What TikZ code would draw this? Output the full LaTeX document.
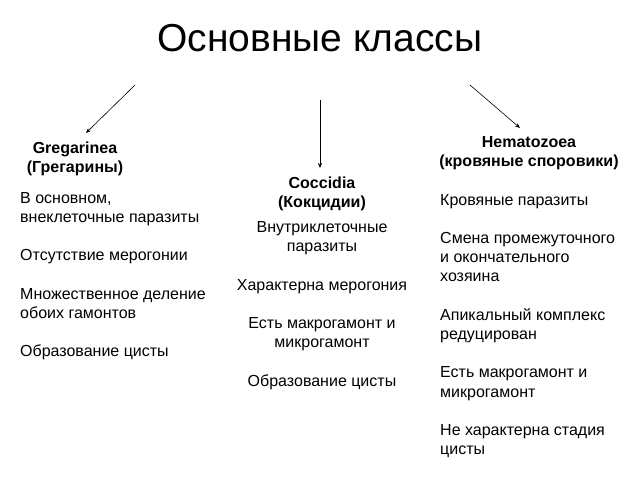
\documentclass[tikz,border=0pt]{standalone}
\usepackage{fontspec}
\setmainfont{Liberation Sans}
\usetikzlibrary{arrows.meta}

\begin{document}
\begin{tikzpicture}[x=1pt,y=-1pt,
  head/.style={font=\fontsize{16}{19}\selectfont\bfseries, align=center, inner sep=0pt},
  body/.style={font=\fontsize{16}{19.2}\selectfont, inner sep=0pt},
  link/.style={-{Stealth[length=5pt,width=4pt]}, line width=0.6pt}]
\useasboundingbox (0,0) rectangle (640,480);

\node[font=\fontsize{39}{42}\selectfont, anchor=base, inner sep=0pt] (title) at (320,51) {Основные классы};

% headers (base = last line)
\node[head, anchor=base] (greg) at (75,172) {Gregarinea\\(Грегарины)};
\node[head, anchor=base] (cocc) at (322,207) {Coccidia\\(Кокцидии)};
\node[head, anchor=base] (hema) at (529,166) {Hematozoea\\(кровяные споровики)};

% arrows
\coordinate (gA) at (135,85);
\coordinate (gB) at (86,133);
\coordinate (cA) at (320,100);
\coordinate (cB) at (320,168);
\coordinate (hA) at (470,85);
\coordinate (hB) at (520,128);
\draw[link] (gA) -- (gB);
\draw[link] (cA) -- (cB);
\draw[link] (hA) -- (hB);

% texts
\node[body, anchor=base west, align=left] (gregtext) at (20,356.6)
  {В основном,\\внеклеточные паразиты\\[19.2pt]
   Отсутствие мерогонии\\[19.2pt]
   Множественное деление\\обоих гамонтов\\[19.2pt]
   Образование цисты};
\node[body, anchor=base, align=center] (cocctext) at (322,386)
  {Внутриклеточные\\паразиты\\[19.2pt]
   Характерна мерогония\\[19.2pt]
   Есть макрогамонт и\\микрогамонт\\[19.2pt]
   Образование цисты};
\node[body, anchor=base west, align=left] (hematext) at (440,454.6)
  {Кровяные паразиты\\[19.2pt]
   Смена промежуточного\\и окончательного\\хозяина\\[19.2pt]
   Апикальный комплекс\\редуцирован\\[19.2pt]
   Есть макрогамонт и\\микрогамонт\\[19.2pt]
   Не характерна стадия\\цисты};
\end{tikzpicture}
\end{document}
